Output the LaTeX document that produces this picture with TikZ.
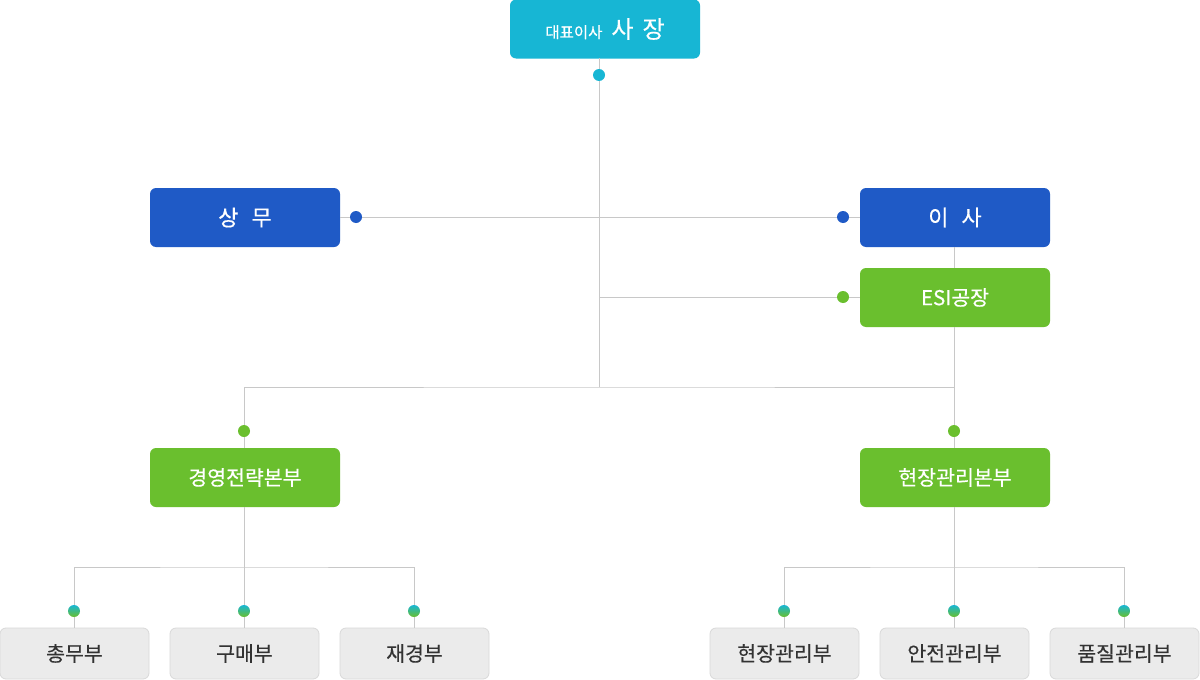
\documentclass[tikz,border=0pt]{standalone}
\usepackage{fontspec}
\setmainfont{Noto Sans CJK KR}
\newfontfamily\boxfont[FakeBold=0.45]{Noto Sans CJK KR}
\newfontfamily\deptfont[FakeBold=0.2]{Noto Sans CJK KR}
\usepackage{tikz}
\usetikzlibrary{positioning}
\definecolor{ceocol}{HTML}{17B6D4}
\definecolor{execcol}{HTML}{1F5AC6}
\definecolor{divcol}{HTML}{6ABF2E}
\definecolor{deptcol}{HTML}{EBEBEB}
\definecolor{deptline}{HTML}{D9D9D9}
\definecolor{linkcol}{HTML}{C8C8C8}
\definecolor{txtcol}{HTML}{333333}

\begin{document}
\begin{tikzpicture}[x=1pt,y=-1pt,
    box/.style={rounded corners=6pt,minimum width=190pt,minimum height=59pt,inner sep=0pt,text=white},
    ceobox/.style={box,fill=ceocol,font=\boxfont},
    execbox/.style={box,fill=execcol,font=\boxfont\fontsize{22}{22}\selectfont},
    divbox/.style={box,fill=divcol,font=\boxfont\fontsize{20.5}{20.5}\selectfont},
    deptbox/.style={rounded corners=6pt,minimum width=149pt,minimum height=51pt,inner sep=0pt,
        fill=deptcol,draw=deptline,line width=0.8pt,text=txtcol,font=\deptfont\fontsize{20.5}{20.5}\selectfont},
    link/.style={draw=linkcol,line width=1pt},
    dot/.style={circle,minimum size=12pt,inner sep=0pt},
    tdot/.style={dot,fill=#1},
    gdot/.style={dot,top color=ceocol,bottom color=divcol}]
    \useasboundingbox[fill=white] (0,0) rectangle (1200,680);
    % top
    \node[ceobox] (ceo) at (605,29) {{\fontsize{15.5}{15.5}\selectfont 대표이사}\hspace{9pt}{\fontsize{24}{24}\selectfont 사\hspace{9pt}장}};
    \node[execbox] (sangmu) at (245,217.5) {상\hspace{13pt}무};
    \node[execbox] (isa) at (955,217.5) {이\hspace{13pt}사};
    \node[divbox] (esi) at (955,297.5) {ESI공장};
    \node[divbox] (mgmt) at (245,477.5) {경영전략본부};
    \node[divbox] (site) at (955,477.5) {현장관리본부};
    % departments
    \node[deptbox] (gen) at (74.5,653.5) {총무부};
    \node[deptbox] (buy) at (244.5,653.5) {구매부};
    \node[deptbox] (fin) at (414.5,653.5) {재경부};
    \node[deptbox] (fld) at (784.5,653.5) {현장관리부};
    \node[deptbox] (safe) at (954.5,653.5) {안전관리부};
    \node[deptbox] (qual) at (1124.5,653.5) {품질관리부};
    \coordinate (top) at (599,58);
    \coordinate (hub) at (599,387);
    \coordinate (lbar) at (244,567);
    \coordinate (rbar) at (954,567);
    % links
    \draw[link] (top) -- (hub);
    \draw[link] (sangmu.east) -- (isa.west);
    \draw[link] (esi.west) -- (esi.west -| hub);
    \draw[link] (isa.south -| rbar) -- (esi.north -| rbar);
    \draw[link] (esi.south -| rbar) -- (rbar |- hub);
    \draw[link] (mgmt.north -| lbar) |- (hub) -| (site.north -| rbar);
    \draw[link] (mgmt.south -| lbar) -- (lbar);
    \draw[link] (site.south -| rbar) -- (rbar);
    \draw[link] (gen.north) |- (lbar) -| (fin.north);
    \draw[link] (lbar) -- (buy.north -| lbar);
    \draw[link] (fld.north) |- (rbar) -| (qual.north);
    \draw[link] (rbar) -- (safe.north -| rbar);
    % dots
    \node[tdot=ceocol] (d0) at (599,75) {};
    \node[tdot=execcol] (d1) at (356,217) {};
    \node[tdot=execcol] (d2) at (843,217) {};
    \node[tdot=divcol] (d3) at (843,297) {};
    \node[tdot=divcol] (d4) at (244,431) {};
    \node[tdot=divcol] (d5) at (954,431) {};
    \foreach \x in {74,244,414,784,954,1124}
        \node[gdot] at (\x,611) {};
\end{tikzpicture}
\end{document}
